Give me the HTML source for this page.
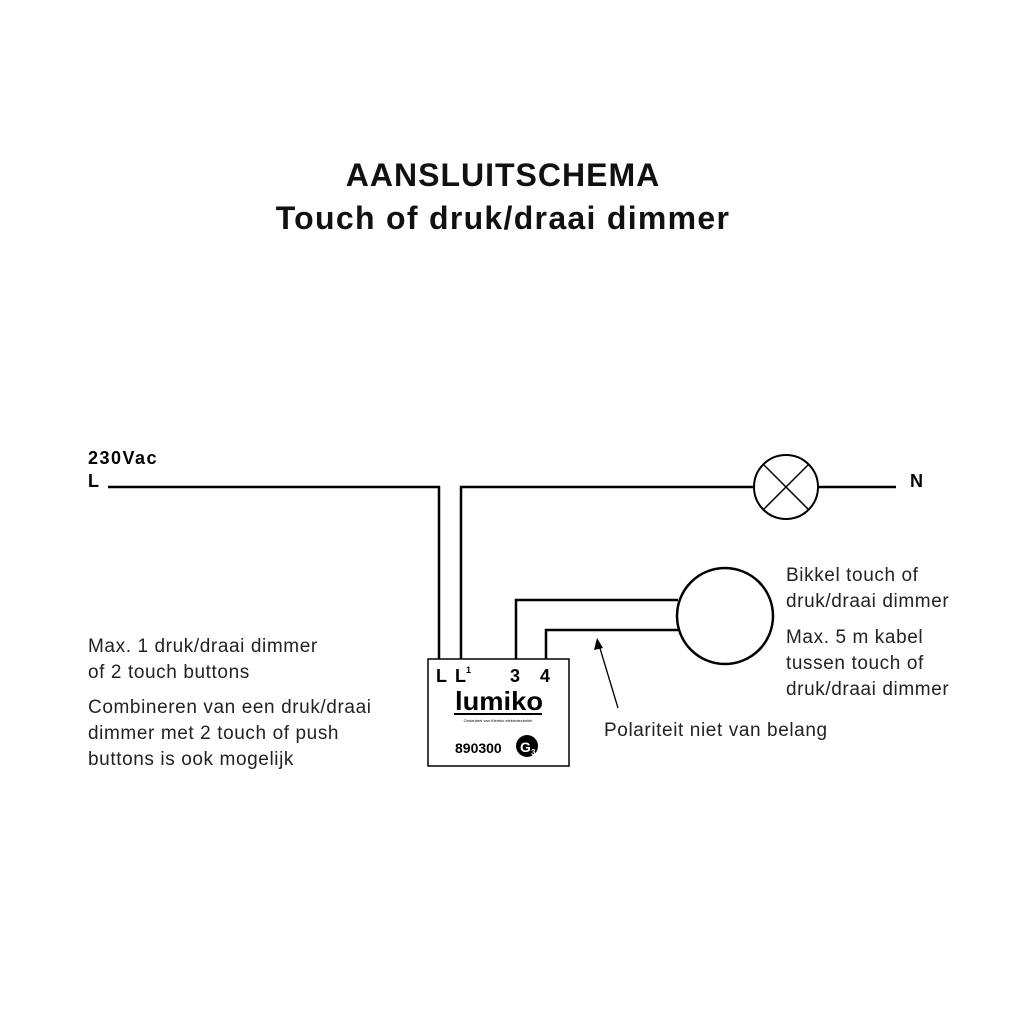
<!DOCTYPE html>
<html><head><style>
body{margin:0;width:1024px;height:1024px;background:#fff;font-family:"Liberation Sans",sans-serif;}
svg{display:block}
</style></head><body>
<svg width="1024" height="1024" viewBox="0 0 1024 1024" xmlns="http://www.w3.org/2000/svg" font-family="Liberation Sans, sans-serif">
<text x="503" y="186" text-anchor="middle" font-size="32" font-weight="bold" fill="#111" letter-spacing="1">AANSLUITSCHEMA</text>
<text x="503" y="229" text-anchor="middle" font-size="32" font-weight="bold" fill="#111" letter-spacing="1.3">Touch of druk/draai dimmer</text>
<text x="88" y="464" font-size="18" font-weight="bold" letter-spacing="1.5">230Vac</text>
<text x="88" y="487" font-size="18" font-weight="bold">L</text>
<text x="910" y="487" font-size="18" font-weight="bold">N</text>
<g stroke="#000" stroke-width="2.5" fill="none">
<polyline points="108,487 439,487 439,660"/>
<polyline points="461,660 461,487 754,487"/>
<line x1="818" y1="487" x2="896" y2="487"/>
<circle cx="786" cy="487" r="32" stroke-width="2"/>
<line x1="763" y1="464" x2="809" y2="510" stroke-width="1.5"/>
<line x1="809" y1="464" x2="763" y2="510" stroke-width="1.5"/>
<polyline points="516,660 516,600 678,600"/>
<polyline points="546,660 546,630 678,630"/>
<circle cx="725" cy="616" r="48"/>
</g>
<rect x="428" y="659" width="141" height="107" fill="#fff" stroke="#000" stroke-width="1.5"/>
<line x1="618" y1="708" x2="599" y2="645" stroke="#000" stroke-width="1.3"/>
<polygon points="597,638 594,650 603,648" fill="#000"/>
<g font-weight="bold" font-size="18">
<text x="436" y="682">L</text><text x="455" y="682">L</text><text x="466" y="673" font-size="9">1</text>
<text x="510" y="682">3</text><text x="540" y="682">4</text>
</g>
<text x="455" y="710" font-size="26" font-weight="bold" textLength="88" lengthAdjust="spacingAndGlyphs">lumiko</text>
<line x1="454" y1="714" x2="542" y2="714" stroke="#000" stroke-width="2"/>
<text x="498" y="722" font-size="4" text-anchor="middle">Onderdeel van Klemko elektrotechniek</text>
<text x="455" y="753" font-size="14" font-weight="bold">890300</text>
<circle cx="527" cy="746" r="11" fill="#000"/>
<text x="520" y="752" font-size="14" font-weight="bold" fill="#fff">G</text>
<text x="531" y="755" font-size="8" font-weight="bold" fill="#fff">3</text>
<g font-size="19" fill="#222" letter-spacing="0.6">
<text x="88" y="652">Max. 1 druk/draai dimmer</text>
<text x="88" y="678">of 2 touch buttons</text>
<text x="88" y="713">Combineren van een druk/draai</text>
<text x="88" y="739">dimmer met 2 touch of push</text>
<text x="88" y="765">buttons is ook mogelijk</text>
<text x="786" y="581">Bikkel touch of</text>
<text x="786" y="607">druk/draai dimmer</text>
<text x="786" y="643">Max. 5 m kabel</text>
<text x="786" y="669">tussen touch of</text>
<text x="786" y="695">druk/draai dimmer</text>
<text x="604" y="736">Polariteit niet van belang</text>
</g>
</svg>
</body></html>
